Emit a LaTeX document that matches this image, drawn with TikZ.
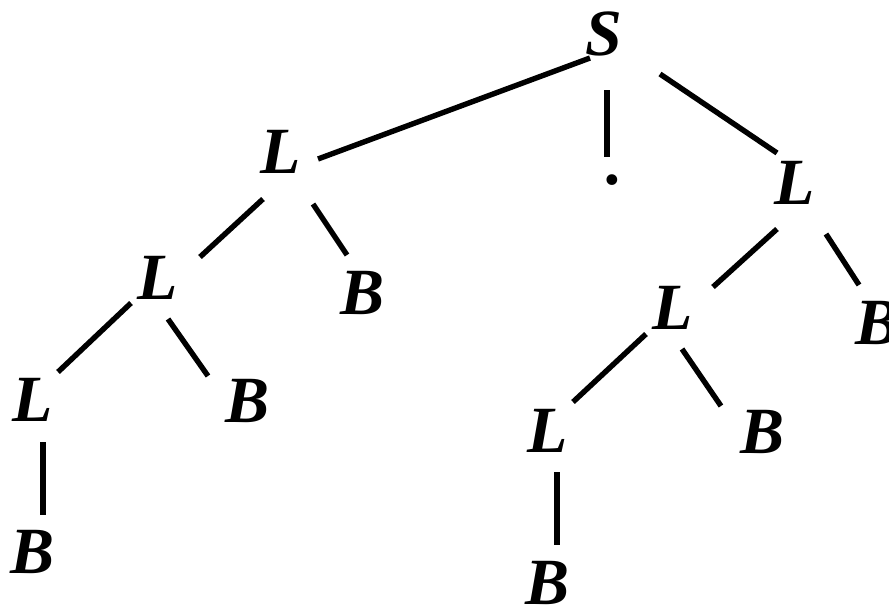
\documentclass[tikz,border=0pt]{standalone}
\usepackage{fontspec}
\setmainfont{Liberation Serif}
\begin{document}
\begin{tikzpicture}[x=0.5pt, y=-0.5pt,
  sym/.style={inner sep=0pt, font=\fontsize{33}{36}\selectfont\bfseries\itshape},
  br/.style={line width=2.7pt}
]
  \useasboundingbox (0,0) rectangle (889,605);
  \node[sym] (s) at (604,34) {S};
  \node[sym] (l) at (281,152) {L};
  \node[sym] (dot) at (615,180) {.};
  \node[sym] (r) at (795,183) {L};
  \node[sym] (ll) at (158,278) {L};
  \node[sym] (lb) at (363,293) {B};
  \node[sym] (lll) at (33,400) {L};
  \node[sym] (llb) at (248,401) {B};
  \node[sym] (lllb) at (33,552) {B};
  \node[sym] (rl) at (673,308) {L};
  \node[sym] (rb) at (878,323) {B};
  \node[sym] (rll) at (548,431) {L};
  \node[sym] (rlb) at (763,432) {B};
  \node[sym] (rllb) at (548,583) {B};

  \draw[br] ([shift={(-14,24)}]s.center) -- ([shift={(37,7)}]l.center);
  \draw[br] ([shift={(3,56)}]s.center) -- ([shift={(-8,-23)}]dot.center);
  \draw[br] ([shift={(56,40)}]s.center) -- ([shift={(-18,-30)}]r.center);
  \draw[br] ([shift={(-18,47)}]l.center) -- ([shift={(42,-21)}]ll.center);
  \draw[br] ([shift={(32,52)}]l.center) -- ([shift={(-16,-38)}]lb.center);
  \draw[br] ([shift={(-27,25)}]ll.center) -- ([shift={(25,-28)}]lll.center);
  \draw[br] ([shift={(10,41)}]ll.center) -- ([shift={(-40,-25)}]llb.center);
  \draw[br] ([shift={(10,42)}]lll.center) -- ([shift={(10,-37)}]lllb.center);
  \draw[br] ([shift={(-18,46)}]r.center) -- ([shift={(40,-21)}]rl.center);
  \draw[br] ([shift={(31,51)}]r.center) -- ([shift={(-19,-38)}]rb.center);
  \draw[br] ([shift={(-27,26)}]rl.center) -- ([shift={(25,-29)}]rll.center);
  \draw[br] ([shift={(9,41)}]rl.center) -- ([shift={(-42,-26)}]rlb.center);
  \draw[br] ([shift={(9,41)}]rll.center) -- ([shift={(9,-38)}]rllb.center);
\end{tikzpicture}
\end{document}
